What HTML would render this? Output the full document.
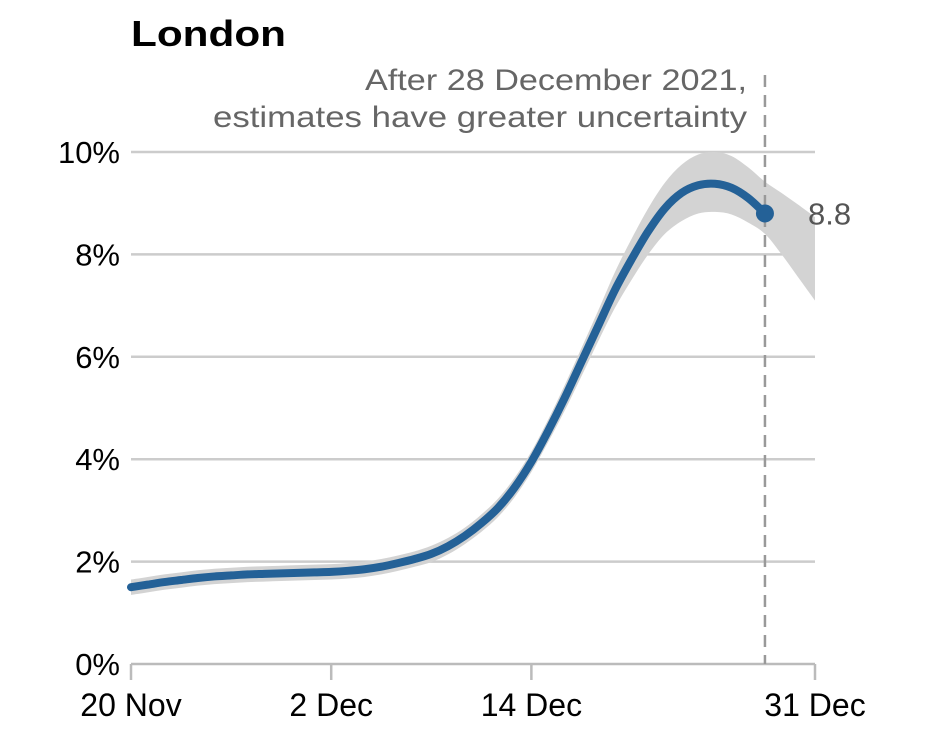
<!DOCTYPE html>
<html><head><meta charset="utf-8"><style>
body{margin:0;background:#fff;font-family:"Liberation Sans",sans-serif}
svg text{font-family:"Liberation Sans",sans-serif}
</style></head><body>
<svg width="937" height="745" viewBox="0 0 937 745" xmlns="http://www.w3.org/2000/svg">
<text x="131" y="46" font-size="36" font-weight="bold" fill="#000" textLength="155" lengthAdjust="spacingAndGlyphs">London</text>
<text x="365" y="90" font-size="30" fill="#666" textLength="382" lengthAdjust="spacingAndGlyphs">After 28 December 2021,</text>
<text x="213" y="127" font-size="30" fill="#666" textLength="534" lengthAdjust="spacingAndGlyphs">estimates have greater uncertainty</text>
<g id="grid"></g>
<g id="band"></g>
<g id="axes"></g>
<g id="line"></g>
</svg>
<script>
const yTicks=[0,2,4,6,8,10];
const yTickLabels=["0%","2%","4%","6%","8%","10%"];
const xTickDays=[0,12,24,41];
const xTickLabels=["20 Nov","2 Dec","14 Dec","31 Dec"];
const values=[1.5,1.55,1.6,1.64,1.68,1.71,1.73,1.75,1.76,1.77,1.78,1.79,1.8,1.82,1.85,1.9,1.97,2.05,2.15,2.3,2.5,2.75,3.05,3.45,3.95,4.55,5.2,5.9,6.6,7.3,7.9,8.45,8.9,9.2,9.35,9.38,9.3,9.1,8.8];
const upper=[1.65,1.7,1.75,1.79,1.83,1.86,1.88,1.9,1.91,1.92,1.93,1.94,1.95,1.97,2.0,2.05,2.12,2.2,2.31,2.46,2.66,2.92,3.23,3.64,4.15,4.77,5.45,6.17,6.9,7.65,8.3,8.9,9.4,9.75,9.95,10.0,9.92,9.7,9.42,9.2,8.97,8.73];
const lower=[1.35,1.4,1.45,1.49,1.53,1.56,1.58,1.6,1.61,1.62,1.63,1.64,1.65,1.67,1.7,1.75,1.82,1.9,1.99,2.14,2.34,2.58,2.87,3.26,3.75,4.33,4.95,5.62,6.3,6.95,7.5,8.0,8.4,8.65,8.8,8.83,8.78,8.62,8.4,8.0,7.55,7.1];
const lastLabel="8.8";
const X=d=>131+d*(684/41);
const Y=v=>664-v*51.2;
const NS="http://www.w3.org/2000/svg";
function mk(t,a,p){const e=document.createElementNS(NS,t);for(const k in a)e.setAttribute(k,a[k]);p.appendChild(e);return e;}
function smooth(pts){let d="M"+pts[0][0]+","+pts[0][1];for(let i=0;i<pts.length-1;i++){const p0=pts[i-1]||pts[i],p1=pts[i],p2=pts[i+1],p3=pts[i+2]||p2;d+=" C"+(p1[0]+(p2[0]-p0[0])/6)+","+(p1[1]+(p2[1]-p0[1])/6)+" "+(p2[0]-(p3[0]-p1[0])/6)+","+(p2[1]-(p3[1]-p1[1])/6)+" "+p2[0]+","+p2[1];}return d;}
const grid=document.getElementById('grid');
yTicks.forEach((t,i)=>{
 if(t>0){const l=mk('line',{x1:131,x2:815,y1:Y(t),y2:Y(t),stroke:'#ccc','stroke-width':2.5},grid);
 
 }
 const tx=mk('text',{x:120,y:Y(t)+11,'font-size':31,'text-anchor':'end',fill:'#000'},grid);tx.textContent=yTickLabels[i];
 
 
});
const band=document.getElementById('band');
const up=upper.map((v,i)=>[X(i),Y(v)]),lo=lower.map((v,i)=>[X(i),Y(v)]).reverse();
const bp=mk('path',{d:smooth(up)+" L"+lo[0][0]+","+lo[0][1]+smooth(lo).replace(/^M[^ ]+/,'')+"Z",fill:'#d3d3d3'},band);


const axes=document.getElementById('axes');
const ax=mk('line',{x1:131,x2:815,y1:664,y2:664,stroke:'#bbb','stroke-width':2.5},axes);


xTickDays.forEach((d,i)=>{
 const tk=mk('line',{x1:X(d),x2:X(d),y1:664,y2:680,stroke:'#bbb','stroke-width':2.5},axes);
 
 
 const tx=mk('text',{x:X(d),y:716,'font-size':32,'text-anchor':'middle',fill:'#000'},axes);tx.textContent=xTickLabels[i];
 
 
});
const dl=mk('line',{x1:X(38),x2:X(38),y1:75,y2:664,stroke:'#999','stroke-width':2.5,'stroke-dasharray':'12,8'},axes);


const lg=document.getElementById('line');
const pts=values.map((v,i)=>[X(i),Y(v)]);
const lp=mk('path',{d:smooth(pts),fill:'none',stroke:'#246197','stroke-width':8,'stroke-linecap':'round'},lg);


const n=values.length-1;
const dot=mk('circle',{cx:X(n),cy:Y(values[n]),r:9,fill:'#246197'},lg);


const lt=mk('text',{x:808,y:Y(values[n])+11,'font-size':31,fill:'#555'},lg);lt.textContent=lastLabel;


</script>
</body></html>
